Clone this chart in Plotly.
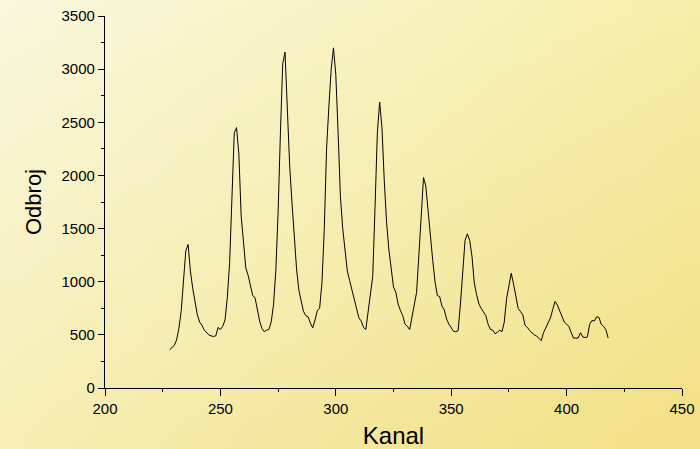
import base64
import struct
import zlib

import plotly.graph_objects as go

# Spectrum: counts per channel
kanal = list(range(228, 419))
odbroj = [
    360, 380, 400, 450, 560, 720, 985, 1290, 1350, 1100,   # 228-237
    940, 810, 690, 620, 590, 545, 520, 500, 490, 485,      # 238-247
    490, 570, 550, 580, 640, 850, 1180, 1760, 2400, 2450,  # 248-257
    2200, 1620, 1400, 1130, 1060, 960, 870, 850, 740, 630, # 258-267
    560, 530, 545, 550, 620, 780, 1100, 1650, 2400, 3050,  # 268-277
    3160, 2600, 2100, 1750, 1450, 1120, 920, 820, 720, 680,  # 278-287
    670, 610, 565, 640, 730, 750, 990, 1490, 2250, 2650,   # 288-297
    3000, 3200, 2950, 2400, 1800, 1500, 1280, 1100, 1010, 920,  # 298-307
    840, 750, 660, 630, 570, 550, 720, 860, 1050, 1700,    # 308-317
    2400, 2690, 2450, 1950, 1560, 1300, 1120, 950, 900, 790,  # 318-327
    730, 680, 600, 580, 550, 660, 760, 900, 1250, 1600,    # 328-337
    1980, 1900, 1650, 1420, 1200, 1000, 870, 860, 770, 735,  # 338-347
    650, 600, 565, 535, 530, 540, 790, 1100, 1390, 1450,   # 348-357
    1390, 1240, 990, 880, 790, 750, 720, 680, 600, 550,    # 358-367
    545, 510, 525, 545, 530, 620, 840, 960, 1080, 980,     # 368-377
    860, 750, 720, 690, 590, 570, 540, 520, 500, 490,      # 378-387
    470, 445, 520, 570, 610, 660, 740, 815, 780, 730,      # 388-397
    680, 620, 600, 580, 520, 470, 470, 470, 520, 480,      # 398-407
    475, 480, 600, 635, 630, 670, 665, 600, 580, 550,      # 408-417
    470,                                                   # 418
]

x_ticks = [200, 250, 300, 350, 400, 450]
y_ticks = [0, 500, 1000, 1500, 2000, 2500, 3000, 3500]

W, H = 700, 449
M_L, M_R, M_T, M_B = 105, 18, 16, 61


def make_png(w, h, rows):
    def chunk(tag, data):
        c = struct.pack(">I", len(data)) + tag + data
        return c + struct.pack(">I", zlib.crc32(tag + data) & 0xFFFFFFFF)
    raw = b"".join(b"\x00" + bytes(r) for r in rows)
    png = b"\x89PNG\r\n\x1a\n"
    png += chunk(b"IHDR", struct.pack(">IIBBBBB", w, h, 8, 2, 0, 0, 0))
    png += chunk(b"IDAT", zlib.compress(raw, 9))
    png += chunk(b"IEND", b"")
    return "data:image/png;base64," + base64.b64encode(png).decode()


# pale yellow paper, lighter toward the upper left, warmer toward the lower right
corner_tl = (250, 248, 222)
corner_tr = (246, 238, 170)
corner_bl = (246, 238, 180)
corner_br = (241, 224, 132)
gw, gh = 70, 45
rows = []
for j in range(gh):
    v = j / (gh - 1)
    row = []
    for i in range(gw):
        u = i / (gw - 1)
        for k in range(3):
            top = corner_tl[k] * (1 - u) + corner_tr[k] * u
            bot = corner_bl[k] * (1 - u) + corner_br[k] * u
            row.append(int(round(top * (1 - v) + bot * v)))
    rows.append(row)
bg_uri = make_png(gw, gh, rows)

pw, ph = W - M_L - M_R, H - M_T - M_B

fig = go.Figure()
fig.add_trace(go.Scatter(
    x=kanal, y=odbroj, mode="lines",
    line=dict(color="black", width=1),
    showlegend=False, hoverinfo="x+y",
))

FONT = "Liberation Sans, Arial, sans-serif"
axis_font = dict(family=FONT, size=15, color="black")

fig.update_layout(
    width=W, height=H,
    margin=dict(l=M_L, r=M_R, t=M_T, b=M_B, pad=0),
    paper_bgcolor="rgb(246,238,180)",
    plot_bgcolor="rgba(0,0,0,0)",
    images=[dict(
        source=bg_uri, xref="paper", yref="paper",
        x=-M_L / pw, y=1 + M_T / ph,
        sizex=W / pw, sizey=H / ph,
        xanchor="left", yanchor="top",
        sizing="stretch", layer="below",
    )],
    xaxis=dict(
        range=[200, 450], tickvals=x_ticks, automargin=False,
        showgrid=False, zeroline=False,
        showline=True, linecolor="black", linewidth=1.3,
        ticks="outside", ticklen=7, tickwidth=1.3, tickcolor="black",
        minor=dict(ticks="outside", ticklen=3, tickwidth=1, tickcolor="black", dtick=25),
        tickfont=axis_font,
        title=dict(text="Kanal", font=dict(family=FONT, size=24, color="black"),
                   standoff=11),
    ),
    yaxis=dict(
        range=[0, 3500], tickvals=y_ticks, automargin=False,
        showgrid=False, zeroline=False,
        showline=True, linecolor="black", linewidth=1.3,
        ticks="outside", ticklen=6, tickwidth=1.3, tickcolor="black",
        minor=dict(ticks="outside", ticklen=3, tickwidth=1, tickcolor="black", dtick=250),
        tickfont=axis_font,
        title=dict(text="Odbroj", font=dict(family=FONT, size=22, color="black"),
                   standoff=13),
    ),
)

fig.write_html("out.html")
